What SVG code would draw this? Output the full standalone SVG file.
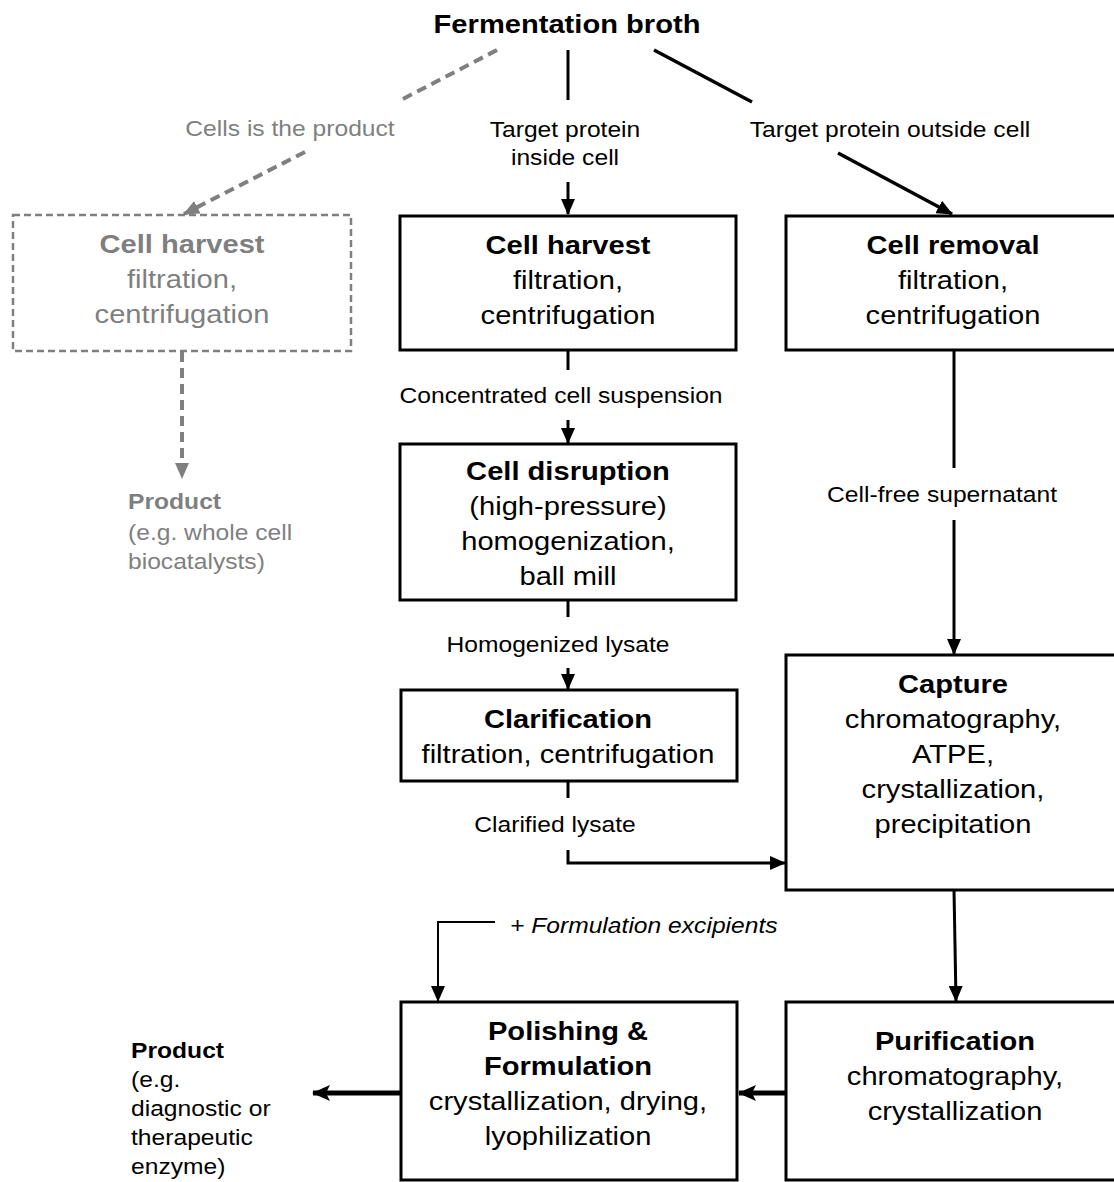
<svg xmlns="http://www.w3.org/2000/svg" width="1114" height="1182" viewBox="0 0 1114 1182">
<style>
  text { font-family: "Liberation Sans", Arial, sans-serif; fill: #000; text-anchor: middle; }
  .title { font-size: 26px; font-weight: bold; }
  .bx { font-size: 26px; }
  .lb { font-size: 22px; }
  .b { font-weight: bold; }
  .gt { fill: #7f7f7f; }
  .st { text-anchor: start; }
  .it { font-style: italic; }
  .box { fill: #fff; stroke: #000; stroke-width: 3; }
  .gbox { fill: #fff; stroke: #7f7f7f; stroke-width: 2.5; stroke-dasharray: 7 4; }
  .c { fill: none; stroke: #000; stroke-width: 3; }
  .thin { stroke-width: 2; }
  .thick { stroke-width: 5; }
  .gc { fill: none; stroke: #7f7f7f; stroke-width: 4; stroke-dasharray: 10 6; }
</style>
<defs>
  <marker id="ab" markerUnits="userSpaceOnUse" viewBox="0 0 16 14" markerWidth="16" markerHeight="14" refX="15" refY="7" orient="auto">
    <path d="M0,0 L16,7 L0,14 z" fill="#000"/>
  </marker>
  <marker id="ag" markerUnits="userSpaceOnUse" viewBox="0 0 16 14" markerWidth="16" markerHeight="14" refX="15" refY="7" orient="auto">
    <path d="M0,0 L16,7 L0,14 z" fill="#7f7f7f"/>
  </marker>
  <marker id="at" markerUnits="userSpaceOnUse" viewBox="0 0 18 18" markerWidth="18" markerHeight="18" refX="17" refY="9" orient="auto">
    <path d="M0,1 L18,9 L0,17 L4,9 z" fill="#000"/>
  </marker>
</defs>

<g id="connectors">
  <line class="gc" x1="497" y1="50" x2="401" y2="100"/>
  <line class="gc" x1="305" y1="152" x2="184" y2="214" marker-end="url(#ag)"/>
  <line class="gc" x1="182" y1="352" x2="182" y2="478" marker-end="url(#ag)"/>

  <line class="c" x1="568" y1="50" x2="568" y2="100"/>
  <line class="c" x1="568" y1="182" x2="568" y2="214" marker-end="url(#ab)"/>

  <line class="c" x1="654" y1="50" x2="752" y2="102" style="stroke-width:3.5"/>
  <line class="c" x1="838" y1="153" x2="952" y2="214" style="stroke-width:3.5" marker-end="url(#ab)"/>

  <line class="c" x1="568" y1="351" x2="568" y2="370"/>
  <line class="c" x1="568" y1="420" x2="568" y2="443" marker-end="url(#ab)"/>

  <line class="c" x1="568" y1="600" x2="568" y2="617"/>
  <line class="c" x1="568" y1="668" x2="568" y2="689" marker-end="url(#ab)"/>

  <line class="c" x1="568" y1="782" x2="568" y2="798"/>
  <path class="c" d="M568,850 V863 H785" marker-end="url(#ab)"/>

  <line class="c" x1="954" y1="351" x2="954" y2="468"/>
  <line class="c" x1="954" y1="520" x2="954" y2="654" marker-end="url(#ab)"/>

  <line class="c" x1="954" y1="890" x2="956" y2="1001" marker-end="url(#ab)"/>

  <path class="c thin" d="M495,922 H438 V1001" marker-end="url(#ab)"/>

  <line class="c thick" x1="786" y1="1093" x2="739" y2="1093" marker-end="url(#at)"/>
  <line class="c thick" x1="400" y1="1093" x2="313" y2="1093" marker-end="url(#at)"/>
</g>

<g id="title">
  <text class="title" transform="translate(567 33) scale(1.12 1)">Fermentation broth</text>
</g>

<g id="labels">
  <text class="lb gt" transform="translate(290 136) scale(1.12 1)">Cells is the product</text>
  <text class="lb" transform="translate(565 137) scale(1.12 1)"><tspan x="0">Target protein</tspan><tspan x="0" dy="28">inside cell</tspan></text>
  <text class="lb" transform="translate(890 137) scale(1.12 1)">Target protein outside cell</text>
  <text class="lb" transform="translate(561 403) scale(1.12 1)">Concentrated cell suspension</text>
  <text class="lb" transform="translate(942 502) scale(1.12 1)">Cell-free supernatant</text>
  <text class="lb" transform="translate(558 652) scale(1.12 1)">Homogenized lysate</text>
  <text class="lb" transform="translate(555 832) scale(1.12 1)">Clarified lysate</text>
  <text class="lb it st" transform="translate(510 933) scale(1.12 1)">+ Formulation excipients</text>
</g>

<g id="node-cell-harvest-gray">
  <rect class="gbox" x="13" y="215" width="338" height="136"/>
  <text class="bx gt" transform="translate(182 253) scale(1.12 1)"><tspan x="0" class="b">Cell harvest</tspan><tspan x="0" dy="35">filtration,</tspan><tspan x="0" dy="35">centrifugation</tspan></text>
</g>

<g id="node-product-cells">
  <text class="lb gt st" transform="translate(128 509) scale(1.12 1)"><tspan x="0" class="b">Product</tspan><tspan x="0" dy="31">(e.g. whole cell</tspan><tspan x="0" dy="29">biocatalysts)</tspan></text>
</g>

<g id="node-cell-harvest">
  <rect class="box" x="400" y="216" width="336" height="134"/>
  <text class="bx" transform="translate(568 254) scale(1.12 1)"><tspan x="0" class="b">Cell harvest</tspan><tspan x="0" dy="35">filtration,</tspan><tspan x="0" dy="35">centrifugation</tspan></text>
</g>

<g id="node-cell-removal">
  <rect class="box" x="786" y="216" width="340" height="134"/>
  <text class="bx" transform="translate(953 254) scale(1.12 1)"><tspan x="0" class="b">Cell removal</tspan><tspan x="0" dy="35">filtration,</tspan><tspan x="0" dy="35">centrifugation</tspan></text>
</g>

<g id="node-cell-disruption">
  <rect class="box" x="400" y="444" width="336" height="156"/>
  <text class="bx" transform="translate(568 480) scale(1.12 1)"><tspan x="0" class="b">Cell disruption</tspan><tspan x="0" dy="35">(high-pressure)</tspan><tspan x="0" dy="35">homogenization,</tspan><tspan x="0" dy="35">ball mill</tspan></text>
</g>

<g id="node-clarification">
  <rect class="box" x="401" y="690" width="336" height="91"/>
  <text class="bx" transform="translate(568 728) scale(1.12 1)"><tspan x="0" class="b">Clarification</tspan><tspan x="0" dy="35">filtration, centrifugation</tspan></text>
</g>

<g id="node-capture">
  <rect class="box" x="786" y="655" width="340" height="235"/>
  <text class="bx" transform="translate(953 693) scale(1.12 1)"><tspan x="0" class="b">Capture</tspan><tspan x="0" dy="35">chromatography,</tspan><tspan x="0" dy="35">ATPE,</tspan><tspan x="0" dy="35">crystallization,</tspan><tspan x="0" dy="35">precipitation</tspan></text>
</g>

<g id="node-purification">
  <rect class="box" x="786" y="1002" width="340" height="178"/>
  <text class="bx" transform="translate(955 1050) scale(1.12 1)"><tspan x="0" class="b">Purification</tspan><tspan x="0" dy="35">chromatography,</tspan><tspan x="0" dy="35">crystallization</tspan></text>
</g>

<g id="node-polishing">
  <rect class="box" x="401" y="1002" width="336" height="178"/>
  <text class="bx" transform="translate(568 1040) scale(1.12 1)"><tspan x="0" class="b">Polishing &amp;</tspan><tspan x="0" dy="35" class="b">Formulation</tspan><tspan x="0" dy="35">crystallization, drying,</tspan><tspan x="0" dy="35">lyophilization</tspan></text>
</g>

<g id="node-product-enzyme">
  <text class="lb st" transform="translate(131 1058) scale(1.12 1)"><tspan x="0" class="b">Product</tspan><tspan x="0" dy="29">(e.g.</tspan><tspan x="0" dy="29">diagnostic or</tspan><tspan x="0" dy="29">therapeutic</tspan><tspan x="0" dy="29">enzyme)</tspan></text>
</g>
</svg>
